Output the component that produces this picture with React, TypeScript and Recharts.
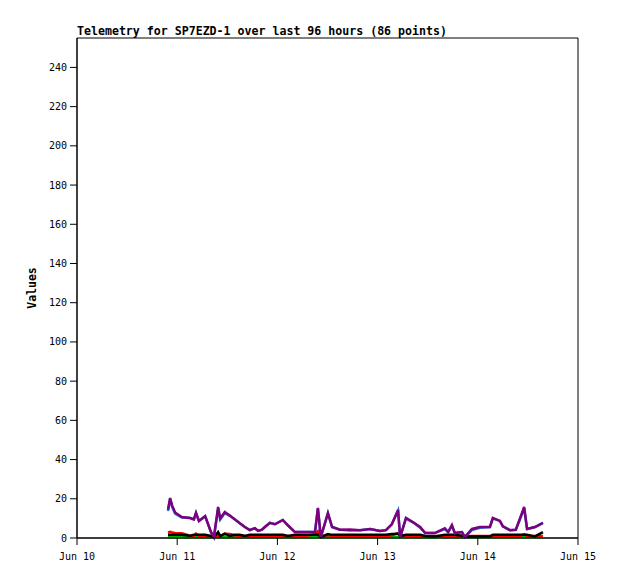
import React from "react";
import { LineChart, Line, XAxis, YAxis, ReferenceArea } from "recharts";

// hours since Jun 10 00:00
const hours = [
  21.8, 22.3, 22.8, 23.5, 25.1, 27.1, 28.0, 28.5, 29.2, 30.7, 32.1, 32.8, 33.8, 34.3, 35.4, 36.6,
  37.8, 39.0, 40.2, 41.4, 42.6, 43.4, 44.3, 45.0, 46.2, 47.4, 49.3, 50.5, 52.2, 54.6, 57.0, 57.7,
  58.4, 60.1, 61.1, 63.0, 65.4, 67.8, 70.2, 72.6, 74.0, 75.4, 76.9, 77.4, 78.8, 80.5, 82.2, 83.4,
  85.7, 88.1, 88.9, 89.8, 90.5, 92.2, 92.9, 94.6, 96.5, 98.9, 99.6, 101.3, 102.0, 103.7, 105.1, 106.1,
  107.1, 107.8, 109.7, 111.6,
];
const purpleVals = [
  14.5, 20.4, 16.5, 13, 10.7, 10.2, 9.5, 12.9, 8.7, 11.2, 3, 0.5, 15.8, 10, 13.3, 11.5,
  9.5, 7.5, 5.6, 4, 5, 3.6, 4.2, 5.6, 7.7, 7, 9.2, 6.5, 3, 3, 3, 15.3,
  0.5, 12.8, 5.6, 4.2, 4.3, 4, 4.6, 3.6, 4, 7, 14.3, 0.5, 10.2, 8, 5.6, 2.5,
  2.5, 5, 3, 6.6, 2.5, 3, 0.5, 4.6, 5.6, 5.6, 10.2, 8.7, 6, 4, 4.2, 10,
  15.8, 4.6, 5.6, 7.7,
];
const blueVals = [
  13.8, 19.8, 15.8, 12.4, 10.5, 10.2, 9.5, 12.6, 8.7, 11.0, 3, 0.5, 15.0, 9.4, 12.7, 11.3,
  9.5, 7.5, 5.6, 4, 5, 3.6, 4.2, 5.6, 7.7, 7, 9.2, 6.5, 3, 3, 3, 15.0,
  0.5, 12.4, 5.6, 4.2, 3.8, 4, 4.6, 3.6, 4, 7, 14.0, 0.5, 10.0, 8, 5.2, 2.5,
  2.5, 4.6, 3, 6.2, 2.5, 3, 0.5, 4.0, 5.2, 5.6, 10.0, 8.7, 6, 4, 4.2, 9.4,
  15.2, 4.6, 5.6, 7.7,
];
const redVals = [
  2.8, 3.2, 2.8, 2.6, 2.4, 1.2, 1.0, 2.2, 1.0, 1.0, 1.0, 0.6, 1.2, 1.0, 2.2, 2.0,
  1.4, 1.0, 1.0, 1.0, 1.0, 1.0, 1.0, 1.0, 1.0, 1.0, 1.2, 1.0, 1.0, 1.0, 2.0, 3.5,
  0.5, 1.5, 1.0, 1.0, 1.0, 1.0, 1.0, 1.0, 1.0, 1.4, 2.5, 1.6, 1.0, 1.0, 1.0, 1.0,
  1.0, 1.0, 1.0, 1.0, 1.0, 1.0, 1.0, 1.0, 1.0, 1.0, 1.0, 1.0, 1.0, 1.0, 1.0, 1.0,
  2.0, 1.0, 1.0, 1.0,
];
const blackVals = [
  1.6, 1.6, 1.6, 1.6, 1.6, 1.2, 1.6, 1.6, 1.6, 1.6, 1.0, 0.4, 3.0, 1.0, 2.2, 1.0,
  1.6, 1.6, 1.0, 1.6, 1.6, 1.6, 1.6, 1.6, 1.6, 1.6, 1.6, 1.0, 1.6, 1.6, 1.6, 1.8,
  0.5, 2.0, 1.6, 1.6, 1.6, 1.6, 1.6, 1.6, 1.6, 2.0, 2.2, 1.0, 1.6, 1.6, 1.6, 1.0,
  0.8, 1.6, 1.6, 1.6, 1.6, 1.2, 0.8, 0.8, 0.8, 0.8, 1.6, 1.6, 1.6, 1.6, 1.6, 1.6,
  1.6, 1.6, 0.8, 3.0,
];
const greenVals = hours.map(() => 0.4);

const xTicks = [0, 24, 48, 72, 96, 120];
const xTickLabels = ["Jun 10", "Jun 11", "Jun 12", "Jun 13", "Jun 14", "Jun 15"];
const yTicks = [0, 20, 40, 60, 80, 100, 120, 140, 160, 180, 200, 220, 240];

const data = hours.map((h, i) => ({
  h,
  purple: purpleVals[i],
  blue: blueVals[i],
  red: redVals[i],
  black: blackVals[i],
  green: greenVals[i],
}));

const FONT = "'DejaVu Sans Mono', monospace";

const YLabel = ({ viewBox }: any) => (
  <text
    x={36}
    y={viewBox.y + viewBox.height / 2}
    transform={`rotate(-90, 36, ${viewBox.y + viewBox.height / 2})`}
    textAnchor="middle"
    fontFamily={FONT}
    fontWeight="bold"
    fontSize={11.5}
    fill="#000"
  >
    Values
  </text>
);

export default function App() {
  return (
    <div style={{ position: "absolute", left: 0, top: 0, width: 618, height: 579, background: "#fff" }}>
      <div
        style={{
          position: "absolute",
          left: 77,
          top: 26,
          fontFamily: FONT,
          fontWeight: "bold",
          fontSize: 11.6,
          lineHeight: 1,
          whiteSpace: "pre",
        }}
      >
        Telemetry for SP7EZD-1 over last 96 hours (86 points)
      </div>
      <LineChart width={618} height={579} data={data} margin={{ top: 38, right: 40, left: 0, bottom: 0 }}>
        <XAxis
          dataKey="h"
          type="number"
          domain={[0, 120]}
          ticks={xTicks}
          tickFormatter={(v) => xTickLabels[xTicks.indexOf(v)]}
          height={41}
          stroke="#000"
          tickSize={7}
          tickMargin={8}
          tick={{ fontFamily: FONT, fontSize: 10, fill: "#000" }}
          interval={0}
        />
        <YAxis
          type="number"
          domain={[0, 255]}
          ticks={yTicks}
          width={77}
          stroke="#000"
          tickSize={7}
          tickMargin={3}
          tick={{ fontFamily: FONT, fontSize: 10, fill: "#000" }}
          interval={0}
          label={<YLabel />}
        />
        <ReferenceArea x1={0} x2={120} y1={0} y2={255} fill="none" stroke="#000" strokeWidth={1} ifOverflow="visible" />
        <Line dataKey="green" stroke="#00b000" strokeWidth={2.5} dot={false} isAnimationActive={false} type="linear" />
        <Line dataKey="red" stroke="#ff0000" strokeWidth={2.5} dot={false} isAnimationActive={false} type="linear" />
        <Line dataKey="black" stroke="#000000" strokeWidth={2.5} dot={false} isAnimationActive={false} type="linear" />
        <Line dataKey="blue" stroke="#1873cc" strokeWidth={2.5} dot={false} isAnimationActive={false} type="linear" />
        <Line dataKey="purple" stroke="#7f007f" strokeWidth={2.5} dot={false} isAnimationActive={false} type="linear" />
      </LineChart>
    </div>
  );
}
